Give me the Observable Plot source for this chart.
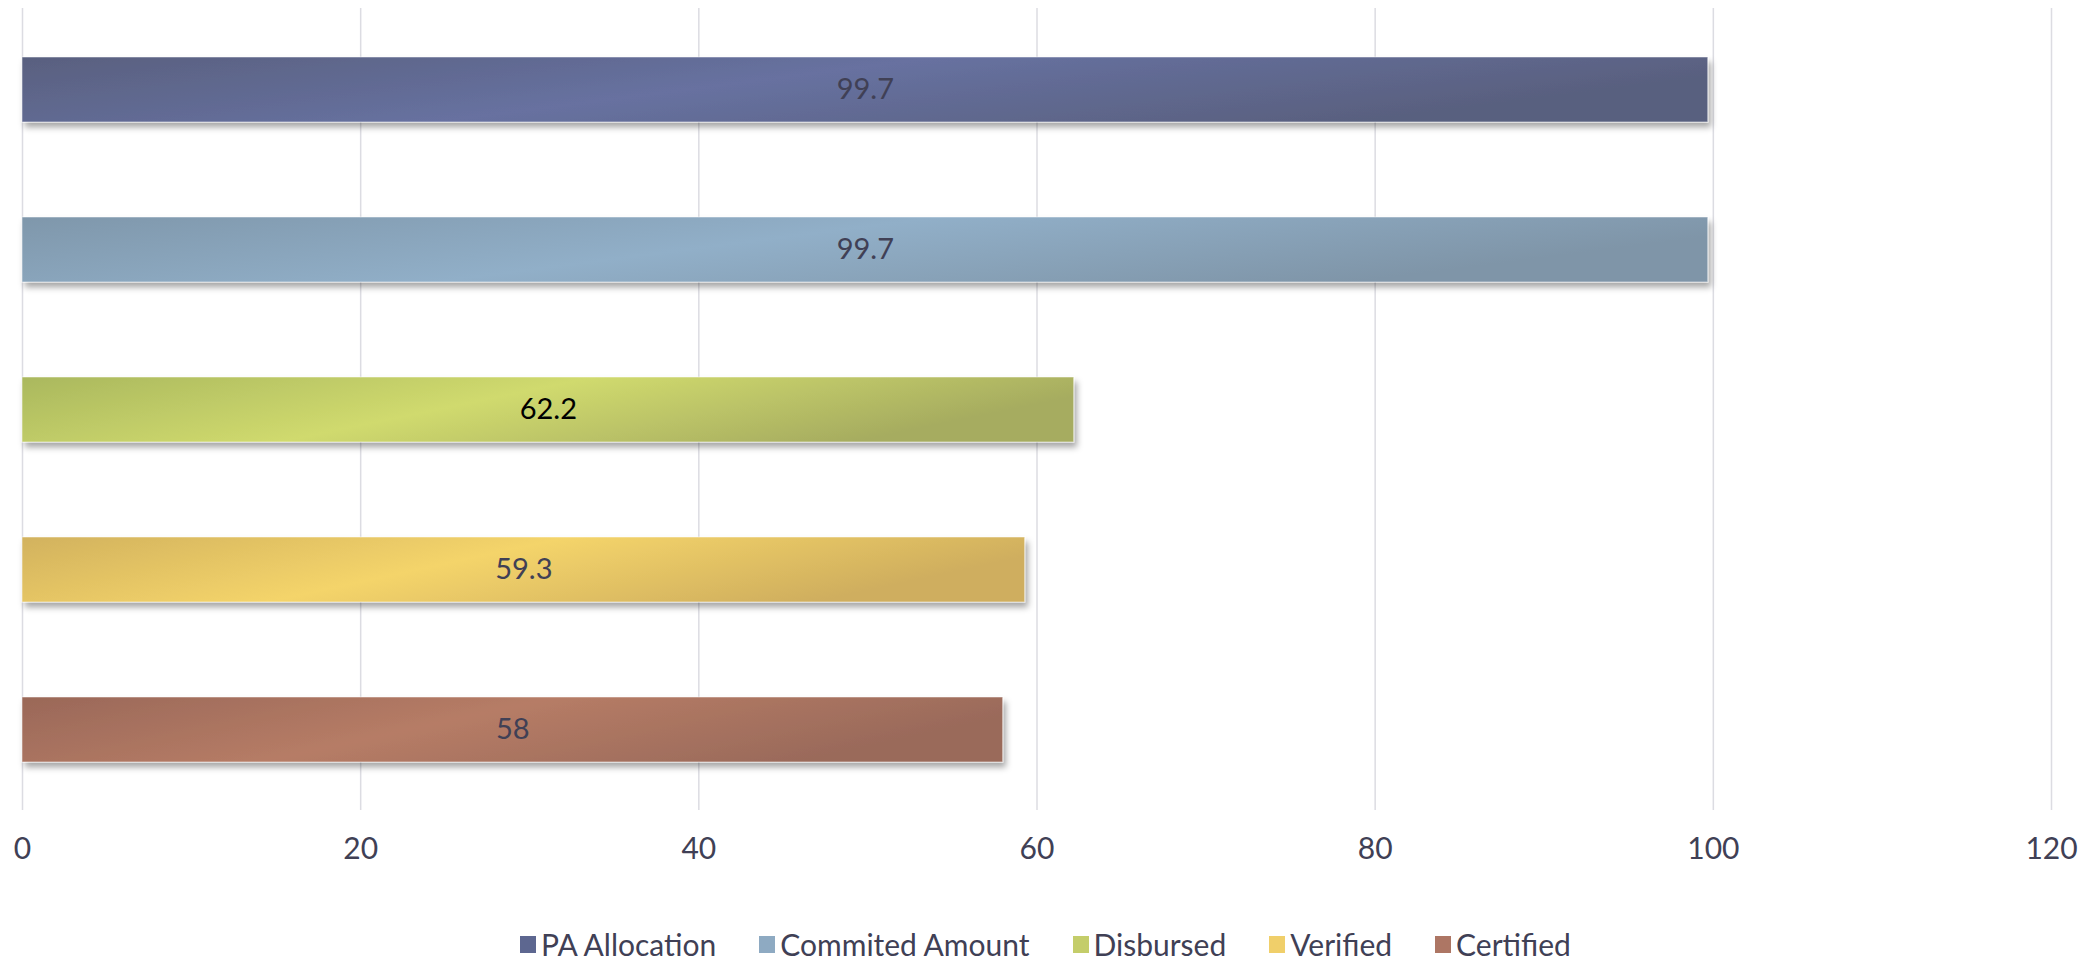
<!DOCTYPE html>
<html><head><meta charset="utf-8">
<script src="https://cdn.jsdelivr.net/npm/d3@7"></script>
<script src="https://cdn.jsdelivr.net/npm/@observablehq/plot@0.6"></script>
<style>
body{margin:0;background:#fff;font-family:Lato,"Open Sans",sans-serif;}
#chart svg{display:block;}
#legend{display:flex;justify-content:center;align-items:center;gap:43px;font-size:30px;color:#404055;height:68px;}
.item{display:flex;align-items:center;gap:5px;}
.sw{width:16px;height:17px;display:inline-block;}
</style></head><body><div id="chart"></div><div id="legend"></div>
<script>
const categories = ["PA Allocation","Commited Amount","Disbursed","Verified","Certified"];
const values = [99.7, 99.7, 62.2, 59.3, 58];
const tickValues = [0,20,40,60,80,100,120];

// styles kept apart from data
const swatchColors = ["#5d6790","#8eaac2","#c4cd6a","#f0cf6a","#ad7664"];
const gradStops = [
  ["#59607f","#6771a0","#59607f"],
  ["#7f97ab","#91afc8","#7f95a8"],
  ["#aab85e","#d0da6e","#a6ac60"],
  ["#d2b25e","#f4d46a","#cfae5e"],
  ["#9a6858","#b67c66","#9a6a5a"]
];
const labelColors = ["#404055","#404055","#000000","#404055","#404055"];

const data = categories.map((c,i)=>({category:c, value:values[i], idx:i}));

const W = 2091, H = 910;
const chart = Plot.plot({
  width: W, height: H,
  marginLeft: 22, marginRight: 40, marginTop: 8, marginBottom: 100,
  style:{fontFamily:"Lato, 'Open Sans', sans-serif", fontSize:"30px", color:"#404055", background:"#fff"},
  x:{domain:[0,120], ticks:tickValues, label:null},
  y:{domain:categories, paddingInner:0.595, paddingOuter:0.2975, axis:null},
  marks:[
    Plot.gridX(tickValues,{stroke:"#dcdce2", strokeOpacity:1, strokeWidth:1.5}),
    Plot.axisX({ticks:tickValues, tickSize:0, tickPadding:27, label:null, fontSize:30}),
    Plot.barX(data,{x:"value", y:"category", fill:(d)=>swatchColors[d.idx]}),
    Plot.text(data,{x:(d)=>d.value/2, y:"category", text:(d)=>String(d.value), fill:(d)=>labelColors[d.idx], fontSize:29})
  ]
});
document.getElementById("chart").appendChild(chart);

// gradients + shadow
const svg = d3.select(chart);
const defs = svg.insert("defs",":first-child");
gradStops.forEach((s,i)=>{
  const g = defs.append("linearGradient").attr("id","g"+i).attr("x1","0").attr("y1","0").attr("x2","1").attr("y2","0.3");
  g.append("stop").attr("offset","0%").attr("stop-color",s[0]);
  g.append("stop").attr("offset","50%").attr("stop-color",s[1]);
  g.append("stop").attr("offset","100%").attr("stop-color",s[2]);
});
const f = defs.append("filter").attr("id","shadow").attr("x","-5%").attr("y","-30%").attr("width","110%").attr("height","180%");
f.append("feDropShadow").attr("dx",3).attr("dy",5).attr("stdDeviation",3).attr("flood-color","#000").attr("flood-opacity",0.35);
svg.selectAll("g[aria-label='bar'] rect").each(function(d,i){
  d3.select(this).attr("fill","url(#g"+i+")").attr("filter","url(#shadow)").attr("stroke","rgba(255,255,255,0.5)").attr("stroke-width",1);
});

// legend
const lg = document.getElementById("legend");
categories.forEach((c,i)=>{
  const it = document.createElement("div"); it.className="item";
  const sw = document.createElement("span"); sw.className="sw"; sw.style.background=swatchColors[i];
  const t = document.createElement("span"); t.textContent=c;
  it.appendChild(sw); it.appendChild(t); lg.appendChild(it);
});
</script></body></html>
